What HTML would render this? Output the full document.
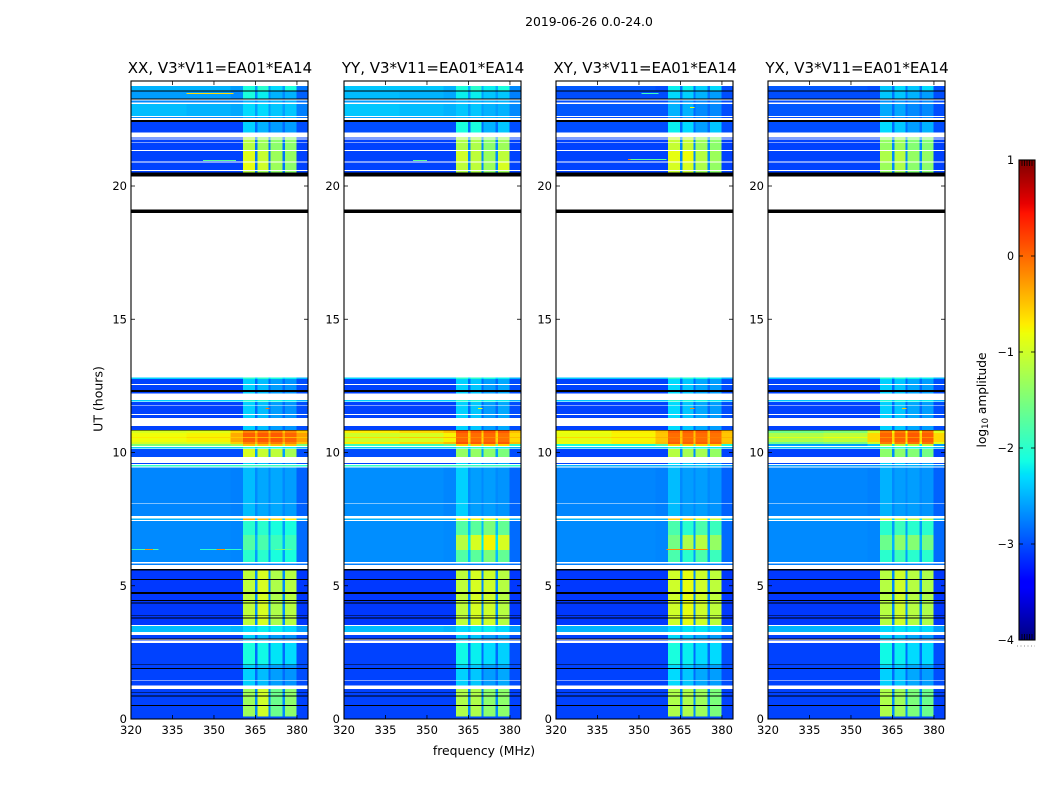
<!DOCTYPE html>
<html>
<head>
<meta charset="utf-8">
<title>2019-06-26 0.0-24.0</title>
<style>
html,body{margin:0;padding:0;background:#fff;}
svg{display:block;font-family:"DejaVu Sans","Liberation Sans",sans-serif;}
</style>
</head>
<body>
<svg id="figure" xmlns="http://www.w3.org/2000/svg" width="1050" height="800" viewBox="0 0 1050 800"></svg>
<script>
// ---- axis ticks ----
const hourTicks = [0, 5, 10, 15, 20];
const freqTicks = [320, 335, 350, 365, 380];
const colorTicks = [1, 0, -1, -2, -3, -4];

// ---- channel slices (MHz): left bg, mid bg, near bg, window 1, gap, window 2, gap, window 3, gap, window 4, right bg ----
const freqEdges = [320, 340, 356, 360.5, 364.8, 365.7, 369.8, 370.5, 374.8, 375.6, 379.8, 384];
const sliceLevel = [0, 1, 2, 3, 8, 4, 8, 5, 8, 6, 7];

// ---- time rows (UT hours, top to bottom) and the observing state for each row ----
const hourEdges = [23.94,23.75,23.58,23.54,23.28,23.25,23.20,23.13,23.08,22.63,22.58,22.55,22.47,22.40,22.00,21.82,21.79,21.75,21.66,21.64,21.35,21.31,20.91,20.88,20.60,20.57,20.50,20.35,19.12,18.99,12.82,12.75,12.57,12.53,12.35,12.27,12.22,11.97,11.92,11.90,11.79,11.76,11.44,11.41,11.30,10.99,10.84,10.82,10.73,10.58,10.54,10.39,10.32,10.24,10.21,10.15,10.13,9.84,9.61,9.57,9.53,9.47,9.43,8.09,8.07,7.62,7.53,7.47,7.43,6.90,6.34,5.90,5.84,5.77,5.62,5.57,5.25,5.22,4.77,4.69,4.47,4.43,4.37,4.34,3.90,3.88,3.80,3.78,3.53,3.49,3.27,3.15,3.03,2.99,2.95,2.92,2.86,2.05,2.02,1.92,1.88,1.47,1.44,1.25,1.12,0.99,0.97,0.88,0.85,0.52,0.49,0.09,0];
const rowStates = ["W","T","K","U","K","W","V","W","R","W","V","W","K","A","W","B","W","B","W","B","W","C","W","D","W","B","K","W","K","W","E","F","W","F","K","F","W","E","W","F","W","F","W","F","W","F","K","H1","H2","H3","H2","H1","H4","W","E","W","I","W","F","W","G","W","L","W","L","W","O","W","M","N","M","W","P","W","K","Q","K","Q","K","Q","K","Q","K","Q","K","Q","K","Q","W","S","W","F","K","W","F","W","X","K","F","K","F","W","F","W","Y","K","Y","K","Y","K","Y","Z"];

// ---- log10 amplitude per state: [bg left, bg mid, bg near, win1, win2, win3, win4, bg right, gap] ----
const levelsXX = {
T:[-2.5,-2.5,-2.6,-2.1,-2.0,-2.3,-2.1,-2.8,-2.6],
U:[-2.6,-2.6,-2.7,-2.1,-2.2,-2.5,-2.5,-2.9,-2.7],
V:[-2.7,-2.7,-2.7,-2.5,-2.5,-2.5,-2.5,-2.8,-2.7],
R:[-2.45,-2.5,-2.55,-2.3,-2.3,-2.4,-2.4,-2.75,-2.6],
A:[-3.05,-3.05,-3.05,-2.35,-2.5,-2.6,-2.6,-3.0,-2.85],
B:[-3.05,-3.05,-3.05,-1.15,-1.3,-1.4,-1.4,-3.05,-2.8],
C:[-3.05,-3.05,-3.05,-0.9,-1.05,-1.3,-1.35,-3.05,-2.8],
D:[-3.05,-3.05,-3.05,-0.85,-1.0,-1.3,-1.4,-3.05,-2.8],
E:[-2.35,-2.35,-2.35,-2.0,-2.0,-2.1,-2.2,-2.5,-2.3],
F:[-3.05,-3.05,-3.05,-2.35,-2.45,-2.6,-2.65,-3.0,-2.85],
H1:[-0.95,-0.9,-0.55,-0.15,-0.1,-0.1,-0.15,-0.5,-0.5],
H2:[-0.8,-0.75,-0.35,0.05,0.08,0.08,0.02,-0.3,-0.3],
H3:[-0.7,-0.6,-0.5,-0.4,-0.4,-0.4,-0.4,-0.5,-0.5],
H4:[-1.5,-1.5,-1.3,-0.5,-0.5,-0.5,-0.5,-1.5,-1.2],
I:[-3.0,-3.0,-3.0,-0.95,-1.05,-1.1,-1.25,-3.0,-2.6],
G:[-1.95,-1.95,-1.95,-1.9,-1.9,-1.9,-1.9,-2.0,-1.95],
L:[-2.72,-2.72,-2.75,-2.45,-2.55,-2.55,-2.6,-2.9,-2.7],
O:[-2.5,-2.5,-2.5,-0.4,-0.45,-0.6,-0.7,-2.5,-2.3],
M:[-2.7,-2.7,-2.72,-2.0,-2.0,-2.1,-2.1,-2.85,-2.6],
N:[-2.7,-2.7,-2.72,-1.75,-1.8,-1.9,-1.9,-2.85,-2.5],
P:[-2.75,-2.75,-2.75,-2.7,-2.7,-2.7,-2.7,-2.8,-2.75],
Q:[-3.1,-3.1,-3.1,-1.1,-0.95,-1.2,-1.15,-3.1,-2.7],
S:[-2.45,-2.45,-2.5,-2.3,-2.2,-2.2,-2.3,-2.6,-2.4],
X:[-3.05,-3.05,-3.05,-2.1,-2.15,-2.25,-2.3,-3.0,-2.85],
Y:[-3.05,-3.05,-3.05,-1.3,-1.0,-1.6,-1.4,-3.05,-2.7],
Z:[-3.05,-3.05,-3.05,-3.0,-3.0,-3.0,-3.0,-3.05,-3.0]
};
const levelsYY = {
T:[-2.4,-2.4,-2.5,-2.1,-2.0,-2.2,-2.1,-2.7,-2.5],
U:[-2.45,-2.5,-2.55,-2.2,-2.2,-2.4,-2.4,-2.75,-2.6],
V:[-2.6,-2.6,-2.6,-2.5,-2.5,-2.5,-2.5,-2.7,-2.6],
R:[-2.4,-2.45,-2.5,-2.4,-2.4,-2.5,-2.5,-2.7,-2.6],
A:[-3.0,-3.0,-3.0,-2.1,-2.1,-2.5,-2.4,-3.0,-2.85],
B:[-3.05,-3.05,-3.05,-1.2,-1.2,-1.4,-1.3,-3.05,-2.7],
C:[-3.05,-3.05,-3.05,-1.0,-1.1,-1.3,-1.1,-3.05,-2.7],
D:[-3.05,-3.05,-3.05,-1.1,-1.1,-1.3,-0.95,-3.05,-2.7],
E:[-2.35,-2.35,-2.35,-2.0,-2.0,-2.1,-2.2,-2.5,-2.3],
F:[-3.05,-3.05,-3.05,-2.35,-2.4,-2.6,-2.55,-3.0,-2.85],
H1:[-0.7,-0.6,-0.45,0.12,0.08,0.1,0.08,-0.45,-0.45],
H2:[-1.0,-0.95,-0.75,0.0,-0.02,0.0,-0.05,-0.6,-0.6],
H3:[-0.6,-0.5,-0.45,-0.15,-0.15,-0.15,-0.15,-0.45,-0.5],
H4:[-1.9,-1.9,-1.7,-0.55,-0.55,-0.55,-0.6,-2.0,-1.6],
I:[-3.0,-3.0,-3.0,-1.35,-1.35,-1.4,-1.5,-3.0,-2.6],
G:[-1.95,-1.95,-1.95,-1.9,-1.9,-1.9,-1.9,-2.0,-1.95],
L:[-2.68,-2.68,-2.72,-2.35,-2.6,-2.6,-2.65,-2.88,-2.7],
O:[-2.5,-2.5,-2.5,-0.8,-0.75,-0.85,-1.0,-2.5,-2.3],
M:[-2.68,-2.68,-2.7,-1.75,-1.7,-1.5,-1.65,-2.85,-2.45],
N:[-2.68,-2.68,-2.7,-1.15,-0.95,-0.75,-0.95,-2.85,-2.25],
P:[-2.75,-2.75,-2.75,-2.7,-2.7,-2.7,-2.7,-2.8,-2.75],
Q:[-3.1,-3.1,-3.1,-1.1,-0.95,-1.0,-1.15,-3.1,-2.7],
S:[-2.45,-2.45,-2.5,-2.3,-2.2,-2.2,-2.3,-2.6,-2.4],
X:[-3.05,-3.05,-3.05,-2.15,-2.2,-2.3,-2.35,-3.0,-2.85],
Y:[-3.05,-3.05,-3.05,-1.2,-1.2,-1.4,-1.4,-3.05,-2.7],
Z:[-3.05,-3.05,-3.05,-3.0,-3.0,-3.0,-3.0,-3.05,-3.0]
};
const levelsXY = {
T:[-2.95,-2.95,-3.0,-2.2,-2.2,-2.35,-2.3,-3.0,-2.8],
U:[-3.0,-3.0,-3.0,-2.3,-2.35,-2.5,-2.6,-3.0,-2.8],
V:[-3.0,-3.0,-3.0,-2.6,-2.6,-2.7,-2.7,-3.0,-2.9],
R:[-2.95,-2.95,-2.95,-2.5,-2.5,-2.7,-2.7,-3.0,-2.85],
A:[-3.0,-3.0,-3.0,-2.2,-2.3,-2.6,-2.4,-3.0,-2.85],
B:[-3.05,-3.05,-3.05,-1.05,-1.05,-1.3,-1.4,-3.05,-2.7],
C:[-3.05,-3.05,-3.05,-0.85,-0.8,-1.15,-1.3,-3.05,-2.7],
D:[-3.05,-3.05,-3.05,-0.95,-0.95,-1.2,-1.35,-3.05,-2.7],
E:[-2.4,-2.4,-2.4,-2.0,-2.05,-2.1,-2.2,-2.5,-2.35],
F:[-3.05,-3.05,-3.05,-2.3,-2.4,-2.55,-2.6,-3.0,-2.85],
H1:[-0.8,-0.7,-0.45,0.05,0.05,0.05,0.02,-0.45,-0.45],
H2:[-0.85,-0.75,-0.5,-0.02,-0.02,-0.02,-0.05,-0.5,-0.5],
H3:[-0.6,-0.55,-0.4,-0.1,-0.1,-0.1,-0.1,-0.4,-0.4],
H4:[-2.1,-2.1,-1.8,-0.55,-0.55,-0.6,-0.6,-2.1,-1.7],
I:[-3.05,-3.05,-3.05,-1.15,-1.25,-1.25,-1.35,-3.05,-2.7],
G:[-2.5,-2.5,-2.5,-2.4,-2.4,-2.4,-2.4,-2.6,-2.5],
L:[-2.72,-2.72,-2.75,-2.45,-2.6,-2.6,-2.65,-2.9,-2.7],
O:[-2.5,-2.5,-2.5,-0.55,-0.55,-0.85,-1.0,-2.5,-2.3],
M:[-2.7,-2.7,-2.72,-1.8,-2.0,-1.8,-1.9,-2.85,-2.6],
N:[-2.7,-2.7,-2.72,-1.55,-1.2,-1.15,-1.35,-2.85,-2.6],
P:[-2.75,-2.75,-2.75,-2.7,-2.7,-2.7,-2.7,-2.8,-2.75],
Q:[-3.1,-3.1,-3.1,-1.0,-0.85,-1.0,-1.1,-3.1,-2.7],
S:[-2.5,-2.5,-2.5,-2.3,-2.25,-2.25,-2.3,-2.6,-2.45],
X:[-3.05,-3.05,-3.05,-2.1,-2.2,-2.3,-2.3,-3.0,-2.85],
Y:[-3.05,-3.05,-3.05,-1.2,-1.2,-1.3,-1.5,-3.05,-2.7],
Z:[-3.05,-3.05,-3.05,-3.0,-3.0,-3.0,-3.0,-3.05,-3.0]
};
const levelsYX = {
T:[-2.95,-2.95,-3.0,-2.4,-2.3,-2.4,-2.3,-3.0,-2.8],
U:[-3.0,-3.0,-3.0,-2.4,-2.4,-2.5,-2.6,-3.0,-2.8],
V:[-3.0,-3.0,-3.0,-2.65,-2.65,-2.7,-2.7,-3.0,-2.9],
R:[-2.95,-2.95,-2.95,-2.55,-2.55,-2.7,-2.7,-3.0,-2.85],
A:[-3.0,-3.0,-3.0,-2.3,-2.4,-2.6,-2.5,-3.0,-2.85],
B:[-3.05,-3.05,-3.05,-1.35,-1.3,-1.45,-1.45,-3.05,-2.7],
C:[-3.05,-3.05,-3.05,-1.2,-1.15,-1.35,-1.35,-3.05,-2.7],
D:[-3.05,-3.05,-3.05,-1.3,-1.2,-1.4,-1.4,-3.05,-2.7],
E:[-2.4,-2.4,-2.4,-2.05,-2.05,-2.15,-2.2,-2.5,-2.35],
F:[-3.05,-3.05,-3.05,-2.35,-2.4,-2.55,-2.6,-3.0,-2.85],
H1:[-1.6,-1.5,-1.0,-0.1,-0.1,-0.05,-0.05,-0.9,-0.8],
H2:[-1.2,-1.1,-0.6,0.02,0.02,0.08,0.05,-0.6,-0.6],
H3:[-0.9,-0.8,-0.6,-0.2,-0.2,-0.2,-0.2,-0.6,-0.6],
H4:[-2.6,-2.6,-2.4,-1.1,-1.1,-1.1,-1.1,-2.6,-2.2],
I:[-3.05,-3.05,-3.05,-1.4,-1.4,-1.45,-1.55,-3.05,-2.7],
G:[-2.6,-2.6,-2.6,-2.5,-2.5,-2.5,-2.5,-2.7,-2.6],
L:[-2.72,-2.72,-2.75,-2.5,-2.6,-2.6,-2.65,-2.9,-2.7],
O:[-2.5,-2.5,-2.5,-1.0,-1.0,-1.1,-1.2,-2.5,-2.3],
M:[-2.7,-2.7,-2.72,-2.0,-1.9,-2.0,-2.0,-2.85,-2.6],
N:[-2.7,-2.7,-2.72,-1.6,-1.4,-1.45,-1.55,-2.85,-2.5],
P:[-2.75,-2.75,-2.75,-2.7,-2.7,-2.7,-2.7,-2.8,-2.75],
Q:[-3.1,-3.1,-3.1,-1.15,-1.0,-1.15,-1.2,-3.1,-2.7],
S:[-2.5,-2.5,-2.5,-2.3,-2.25,-2.25,-2.3,-2.6,-2.45],
X:[-3.05,-3.05,-3.05,-2.15,-2.2,-2.3,-2.3,-3.0,-2.85],
Y:[-3.05,-3.05,-3.05,-1.2,-1.3,-1.5,-1.6,-3.05,-2.7],
Z:[-3.05,-3.05,-3.05,-3.0,-3.0,-3.0,-3.0,-3.05,-3.0]
};

// ---- narrow RFI streaks: [hour, start MHz, end MHz, log10 amplitude] ----
const streaksXX = [[23.47,340,357,-0.6],[20.95,346,358,-1.7],[11.66,368.7,370,-0.1],[6.36,320,330,-1.9],[6.36,325,328,-0.2],[6.36,345,360,-2.0],[6.36,351,354,-0.2],[6.36,372,378,-1.6]];
const streaksYY = [[11.66,368.5,370,-0.8],[20.95,345,350,-1.7]];
const streaksXY = [[21.0,346,360,-1.7],[21.0,346,347,-0.1],[23.47,351,357,-1.9],[22.95,368.5,370,-0.8],[11.66,368.5,370,-0.2],[6.36,360,375,-0.2]];
const streaksYX = [[11.66,368.5,370,-0.5]];

// ---- panels ----
const panelNames = ["XX", "YY", "XY", "YX"];
const panelLevels = [levelsXX, levelsYY, levelsXY, levelsYX];
const panelStreaks = [streaksXX, streaksYY, streaksXY, streaksYX];

// ---- layout + scales ----
const panelLeft = [131, 344, 556, 768];
const panelWidth = 177;
const plotTop = 81, plotBottom = 719;
const FREQ_MIN = 320, FREQ_MAX = 384, HOUR_MAX = 23.94, COLOR_MIN = -4, COLOR_MAX = 1;
const NS = "http://www.w3.org/2000/svg";
const fig = document.getElementById("figure");

function xScale(p, f) { return panelLeft[p] + (f - FREQ_MIN) / (FREQ_MAX - FREQ_MIN) * panelWidth; }
function yScale(h) { return plotBottom - h / HOUR_MAX * (plotBottom - plotTop); }
function cScale(v) { return 640 - (v - COLOR_MIN) / (COLOR_MAX - COLOR_MIN) * 480; }
function clamp(x) { return Math.max(0, Math.min(1, x)); }
function jet(val) {
  const v = clamp((val - COLOR_MIN) / (COLOR_MAX - COLOR_MIN));
  let r, g, b;
  r = v < 0.35 ? 0 : v < 0.66 ? (v - 0.35) / 0.31 : v < 0.89 ? 1 : 1 - (v - 0.89) / 0.11 * 0.5;
  g = v < 0.125 ? 0 : v < 0.375 ? (v - 0.125) / 0.25 : v < 0.64 ? 1 : v < 0.91 ? 1 - (v - 0.64) / 0.27 : 0;
  b = v < 0.11 ? 0.5 + v / 0.11 * 0.5 : v < 0.34 ? 1 : v < 0.65 ? 1 - (v - 0.34) / 0.31 : 0;
  return "rgb(" + Math.round(r * 255) + "," + Math.round(g * 255) + "," + Math.round(b * 255) + ")";
}
function make(tag, attrs, parent) {
  const el = document.createElementNS(NS, tag);
  for (const k in attrs) el.setAttribute(k, attrs[k]);
  (parent || fig).appendChild(el);
  return el;
}
function label(txt, x, y, size, anchor, parent) {
  const t = make("text", { x: x, y: y, "font-size": size, "text-anchor": anchor, fill: "#000" }, parent);
  t.textContent = txt;
  return t;
}

// ---- figure title ----
const suptitle = label("2019-06-26 0.0-24.0", 589, 26, 12.4, "middle");



// ---- draw panels ----
panelNames.forEach(function (name, p) {
  const group = make("g", {});
  
  

  const levels = panelLevels[p];
  rowStates.forEach(function (state, r) {
    if (state === "W") return;
    const y0 = yScale(hourEdges[r]), y1 = yScale(hourEdges[r + 1]);
    if (state === "K") {
      const bad = make("rect", { x: panelLeft[p], y: y0, width: panelWidth, height: Math.max(1, y1 - y0), fill: "#000", "shape-rendering": "crispEdges" }, group);
      
      
      return;
    }
    sliceLevel.forEach(function (lev, s) {
      const x0 = xScale(p, freqEdges[s]), x1 = xScale(p, freqEdges[s + 1]);
      const cell = make("rect", { x: x0, y: y0, width: x1 - x0, height: y1 - y0, fill: jet(levels[state][lev]), "shape-rendering": "crispEdges" }, group);
      
      
    });
  });

  panelStreaks[p].forEach(function (st) {
    const x0 = xScale(p, st[1]), x1 = xScale(p, st[2]);
    const mark = make("rect", { x: x0, y: yScale(st[0]) - 0.5, width: x1 - x0, height: 1, fill: jet(st[3]), "shape-rendering": "crispEdges" }, group);
    
    
  });

  // frame
  const L = panelLeft[p], R = L + panelWidth;
  const frame = make("rect", { x: L, y: plotTop, width: panelWidth, height: plotBottom - plotTop, fill: "none", stroke: "#000", "stroke-width": 1.1 }, group);
  
  

  // x ticks
  freqTicks.forEach(function (f) {
    const x = xScale(p, f);
    const t1 = make("line", { x1: x, x2: x, y1: plotBottom, y2: plotBottom - 4, stroke: "#000", "stroke-width": 0.8 }, group);
    
    
    const t2 = make("line", { x1: x, x2: x, y1: plotTop, y2: plotTop + 4, stroke: "#000", "stroke-width": 0.8 }, group);
    
    
    const lab = label(String(f), x, 734, 11.5, "middle", group);
    
    
  });

  // y ticks
  hourTicks.forEach(function (h) {
    const y = yScale(h);
    const t1 = make("line", { x1: L, x2: L + 4, y1: y, y2: y, stroke: "#000", "stroke-width": 0.8 }, group);
    
    
    const t2 = make("line", { x1: R, x2: R - 4, y1: y, y2: y, stroke: "#000", "stroke-width": 0.8 }, group);
    
    
    const lab = label(String(h), L - 4, y + 4, 11.5, "end", group);
    
    
  });

  const title = label(name + ", V3*V11=EA01*EA14", (L + R) / 2 + 0.5, 73, 15, "middle", group);
  
  
});

// ---- axis titles ----
const yTitle = label("UT (hours)", 0, 0, 12.5, "middle");
yTitle.setAttribute("transform", "translate(102.5,399) rotate(-90)");


const xTitle = label("frequency (MHz)", 484, 755, 12.4, "middle");



// ---- colorbar ----
const cbar = make("g", {});


const CB_L = 1019, CB_R = 1035;
for (let i = 0; i < 240; i++) {
  const v0 = COLOR_MIN + i / 240 * (COLOR_MAX - COLOR_MIN);
  const v1 = COLOR_MIN + (i + 1) / 240 * (COLOR_MAX - COLOR_MIN);
  const sw = make("rect", { x: CB_L, y: cScale(v1), width: CB_R - CB_L, height: cScale(v0) - cScale(v1) + 0.3, fill: jet((v0 + v1) / 2), "shape-rendering": "crispEdges" }, cbar);
  
  
}
const cbFrame = make("rect", { x: CB_L, y: 160, width: CB_R - CB_L, height: 480, fill: "none", stroke: "#000", "stroke-width": 1.1 }, cbar);


colorTicks.forEach(function (v) {
  const y = cScale(v);
  const a = make("line", { x1: CB_L, x2: CB_L + 4, y1: y, y2: y, stroke: "#000", "stroke-width": 0.8 }, cbar);
  
  
  const b = make("line", { x1: CB_R, x2: CB_R - 4, y1: y, y2: y, stroke: "#000", "stroke-width": 0.8 }, cbar);
  
  
  const lab = label(v < 0 ? "\u2212" + Math.abs(v) : String(v), 1014, y + 4, 11.1, "end", cbar);
  
  
});
[1022, 1024.5, 1027, 1029.5, 1032].forEach(function (x) {
  const top = make("line", { x1: x, x2: x, y1: 160, y2: 166, stroke: "#000", "stroke-width": 0.8 }, cbar);
  
  
  const bot = make("line", { x1: x, x2: x, y1: 640, y2: 634, stroke: "#000", "stroke-width": 0.8 }, cbar);
  
  
});
const dots = make("line", { x1: 1017, x2: 1035, y1: 646, y2: 646, stroke: "#888", "stroke-width": 1, "stroke-dasharray": "1 2.5" }, cbar);



const cbTitle = make("text", { "font-size": 12.2, "text-anchor": "middle", transform: "translate(986,400) rotate(-90)", fill: "#000" }, cbar);


const s1 = make("tspan", {}, cbTitle); s1.textContent = "log";
const s2 = make("tspan", { "font-size": 8.5, dy: 2 }, cbTitle); s2.textContent = "10";
const s3 = make("tspan", { dy: -2 }, cbTitle); s3.textContent = " amplitude";
</script>
</body>
</html>
